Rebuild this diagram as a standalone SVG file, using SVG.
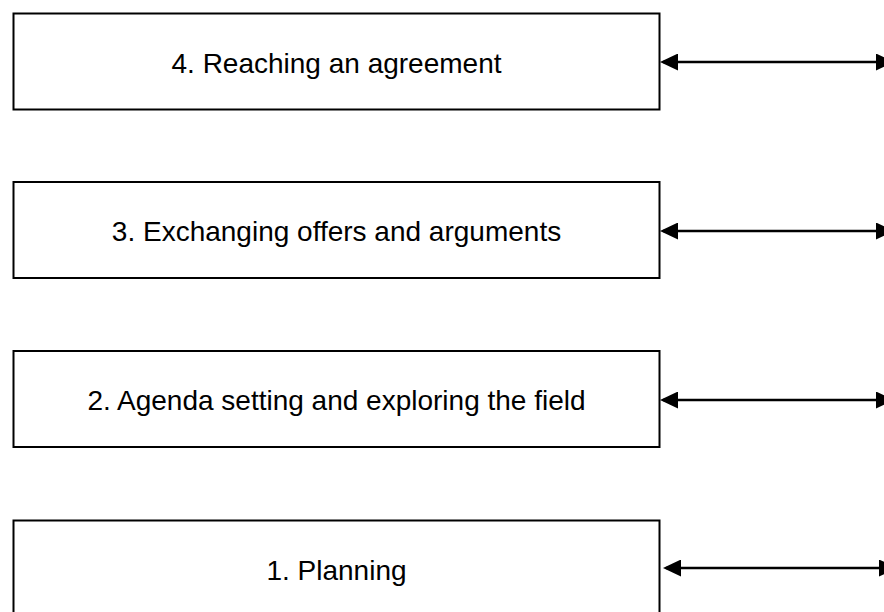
<svg xmlns="http://www.w3.org/2000/svg" width="884" height="612" viewBox="0 0 884 612">
  <style>
    .box { fill: #ffffff; stroke: #000000; stroke-width: 2; }
    .label { font-family: "Liberation Sans", Arial, sans-serif; font-size: 28px; fill: #000000; text-anchor: middle; }
    .conn { stroke: #000000; stroke-width: 2.4; fill: none; marker-start: url(#arrow); marker-end: url(#arrow); }
  </style>
  <defs>
    <marker id="arrow" viewBox="0 0 18 17" refX="15" refY="8.5" markerWidth="18" markerHeight="17" markerUnits="userSpaceOnUse" orient="auto-start-reverse">
      <path d="M0,0 L18,8.5 L0,17 Z" fill="#000000"/>
    </marker>
  </defs>
  <rect x="0" y="0" width="884" height="612" fill="#ffffff"/>

  <g id="node-4">
    <rect class="box" x="13.5" y="13.5" width="646" height="96"/>
    <text class="label" x="336.5" y="73">4. Reaching an agreement</text>
  </g>
  <g id="node-3">
    <rect class="box" x="13.5" y="182" width="646" height="96"/>
    <text class="label" x="336.5" y="241">3. Exchanging offers and arguments</text>
  </g>
  <g id="node-2">
    <rect class="box" x="13.5" y="351" width="646" height="96"/>
    <text class="label" x="336.5" y="410">2. Agenda setting and exploring the field</text>
  </g>
  <g id="node-1">
    <rect class="box" x="13.5" y="520.5" width="646" height="96"/>
    <text class="label" x="336.5" y="580">1. Planning</text>
  </g>

  <g id="connectors">
    <line class="conn" x1="663" y1="62" x2="891" y2="62"/>
    <line class="conn" x1="663" y1="231" x2="891" y2="231"/>
    <line class="conn" x1="663" y1="400" x2="891" y2="400"/>
    <line class="conn" x1="666" y1="568" x2="894" y2="568"/>
  </g>
</svg>
